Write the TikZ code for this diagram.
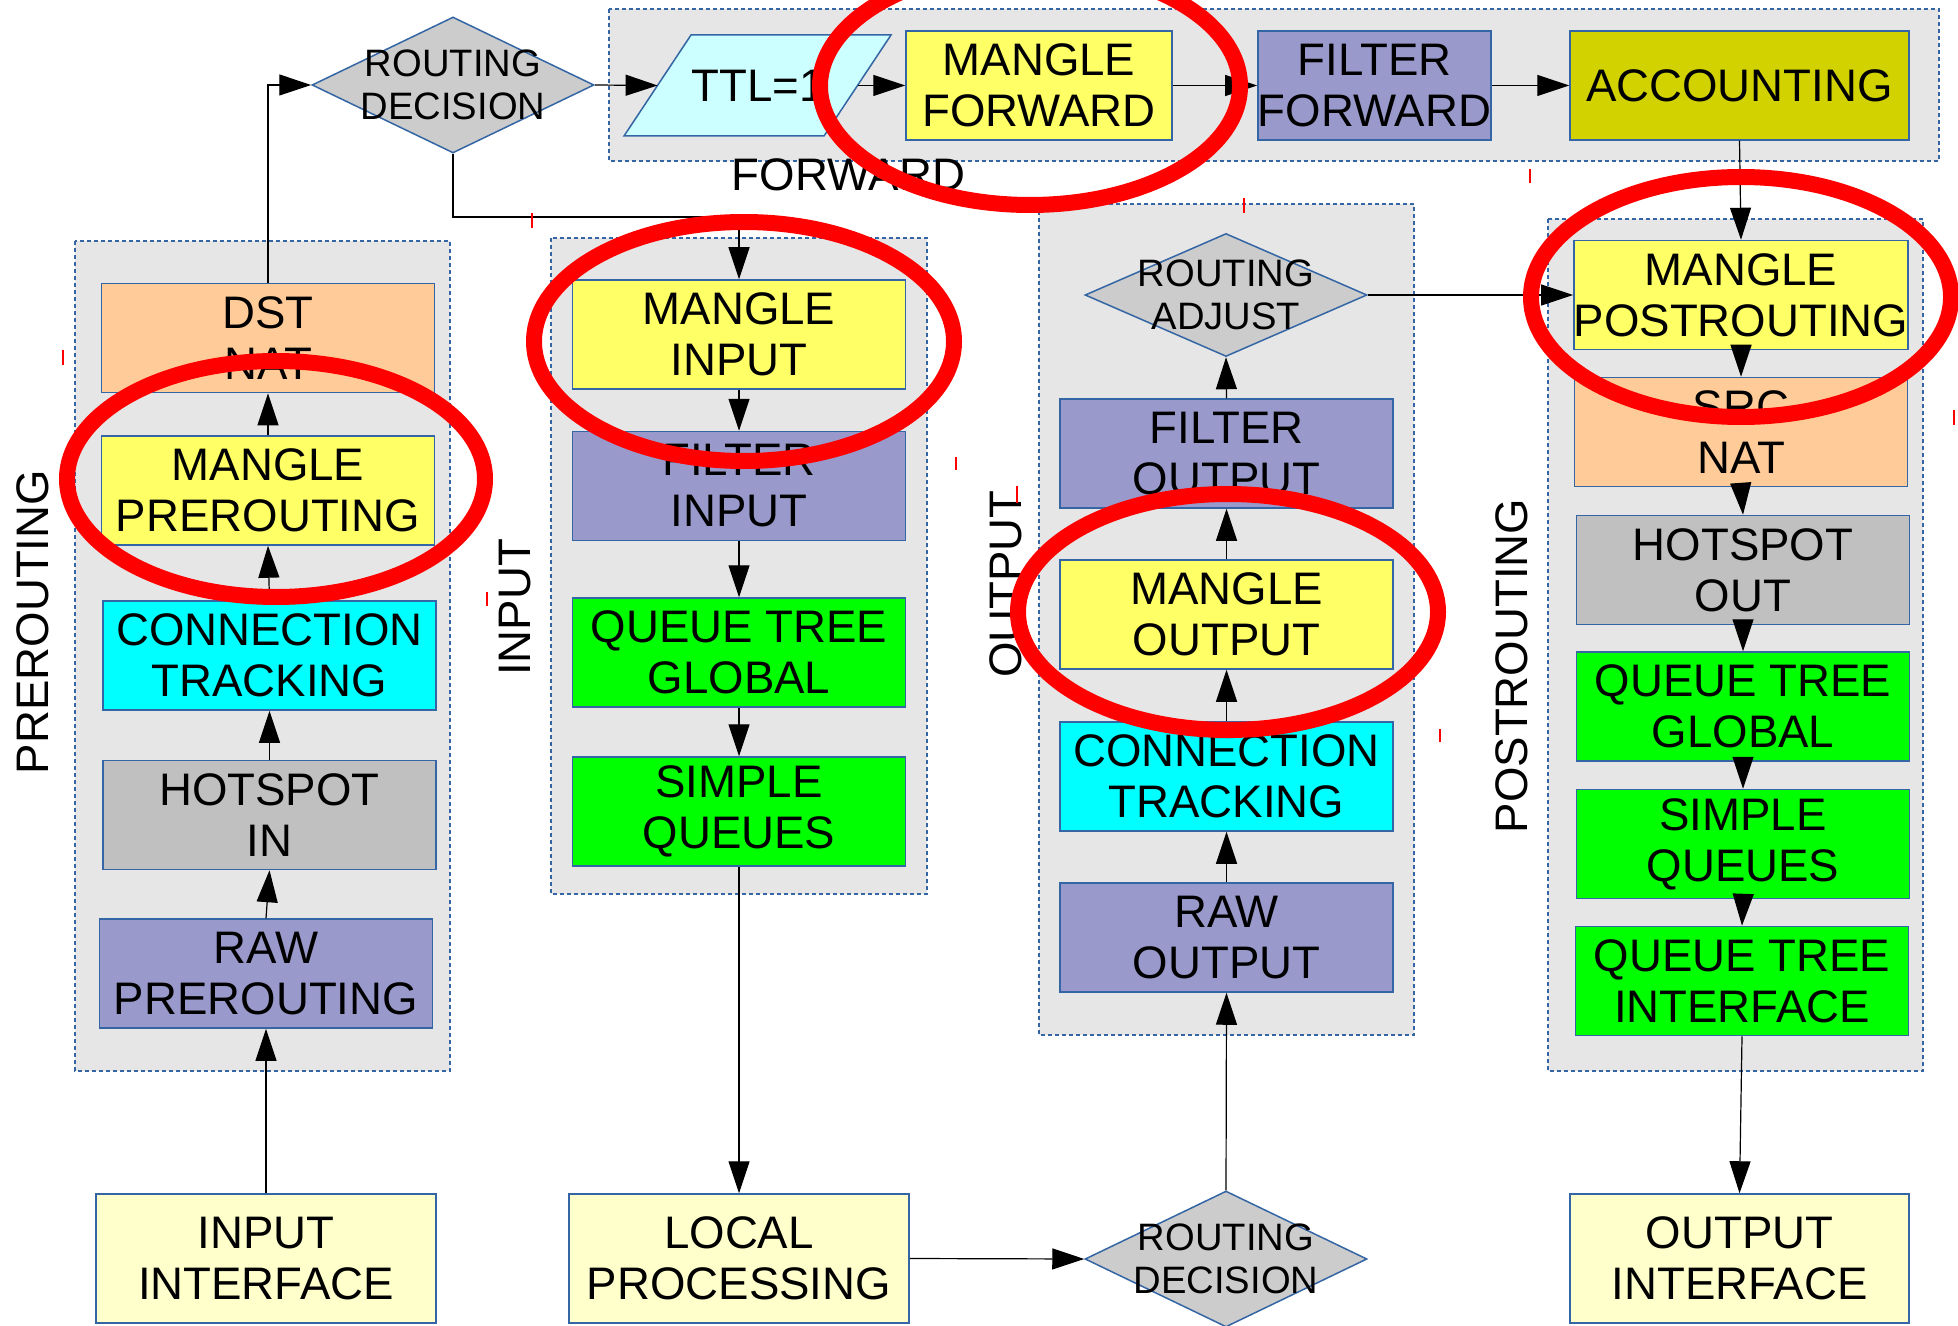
\documentclass[tikz,border=0pt]{standalone}
\usepackage{fontspec}
\setmainfont{Liberation Sans}
\usetikzlibrary{shapes.geometric,arrows.meta}
\definecolor{bblue}{RGB}{52,101,164}
\definecolor{grpfill}{RGB}{230,230,230}
\definecolor{cmangle}{RGB}{255,255,102}
\definecolor{cfilter}{RGB}{153,153,204}
\definecolor{cnat}{RGB}{255,204,153}
\definecolor{cconn}{RGB}{0,255,255}
\definecolor{chot}{RGB}{192,192,192}
\definecolor{cqueue}{RGB}{0,255,0}
\definecolor{cacct}{RGB}{210,210,0}
\definecolor{cttl}{RGB}{204,255,255}
\definecolor{cif}{RGB}{255,255,204}
\definecolor{cdia}{RGB}{204,204,204}
\definecolor{ringred}{RGB}{255,0,0}
\begin{document}
\begin{tikzpicture}[x=0.5pt,y=-0.5pt,
  boxfont/.style={font=\fontsize{22.8pt}{25.5pt}\selectfont},
  blk/.style={boxfont, draw=bblue, line width=0.75pt, rectangle,
    minimum width=166.5pt, minimum height=54.5pt, inner sep=0pt, align=center},
  ifbox/.style={blk, fill=cif, minimum width=170pt, minimum height=64.5pt},
  dia/.style={diamond, draw=bblue, fill=cdia, line width=0.75pt,
    minimum width=141pt, minimum height=68pt, inner sep=0pt},
  dialab/.style={align=center, inner sep=0pt, font=\fontsize{19.1pt}{21.5pt}\selectfont},
  grp/.style={fill=grpfill, draw=bblue, line width=0.6pt, dash pattern=on 2pt off 1.5pt},
  side/.style={boxfont, inner sep=0pt},
  para/.style={draw=bblue, fill=cttl, line width=0.75pt, line join=miter},
  ttlbox/.style={boxfont, rectangle, inner sep=0pt, minimum width=100pt, minimum height=50.5pt},
  arr/.style={line width=0.6pt, -{Triangle[length=16pt,width=10.5pt]}},
  ring/.style={draw=ringred, line width=8pt},
  tick/.style={draw=ringred, line width=1pt}
]
\useasboundingbox (0,0) rectangle (1958,1326);
\fill[white] (0,0) rectangle (1958,1326);

% groups
\path[grp] (609,9) rectangle (1939,161);
\path[grp] (75,241) rectangle (450,1071);
\path[grp] (551,238) rectangle (927,894);
\path[grp] (1039,204) rectangle (1414,1035);
\path[grp] (1548,219) rectangle (1923,1071);

% top row
\node[dia, label={[dialab]center:ROUTING\\DECISION}] (rdec1) at (453,85) {};
\path[para] (624,136) -- (691,35) -- (891,35) -- (824,136) -- cycle;
\node[ttlbox] (ttl) at (758,85.5) {TTL=1};
\node[blk, fill=cmangle, minimum width=133pt] (mfwd) at (1039,85.5) {MANGLE\\FORWARD};
\node[blk, fill=cfilter, minimum width=115.5pt] (ffwd) at (1374.5,85.5) {FILTER\\FORWARD};
\node[blk, fill=cacct, minimum width=169.5pt] (acct) at (1739.5,85.5) {ACCOUNTING};

% prerouting
\node[blk, fill=cnat] (dst) at (268,338) {DST\\NAT};
\node[blk, fill=cmangle] (mpre) at (268,490.5) {MANGLE\\PREROUTING};
\node[blk, fill=cconn] (ctpre) at (269.5,655.5) {CONNECTION\\TRACKING};
\node[blk, fill=chot] (hsin) at (269.5,815) {HOTSPOT\\IN};
\node[blk, fill=cfilter] (rawpre) at (266,973.5) {RAW\\PREROUTING};
\node[ifbox] (inif) at (266,1258.5) {INPUT\\INTERFACE};

% input
\node[blk, fill=cmangle] (min) at (739,334.5) {MANGLE\\INPUT};
\node[blk, fill=cfilter] (fin) at (739,486) {FILTER\\INPUT};
\node[blk, fill=cqueue] (qtg) at (739,652.5) {QUEUE TREE\\GLOBAL};
\node[blk, fill=cqueue] (sq) at (739,811.5) {SIMPLE\\QUEUES};
\node[ifbox] (local) at (739,1258.5) {LOCAL\\PROCESSING};

% output
\node[dia, minimum height=61.5pt, label={[dialab]center:ROUTING\\ADJUST}] (radj) at (1226,295) {};
\node[blk, fill=cfilter] (fout) at (1226.5,453.5) {FILTER\\OUTPUT};
\node[blk, fill=cmangle] (mout) at (1226.5,614.5) {MANGLE\\OUTPUT};
\node[blk, fill=cconn] (ctout) at (1226.5,776.5) {CONNECTION\\TRACKING};
\node[blk, fill=cfilter] (rawout) at (1226.5,937.5) {RAW\\OUTPUT};
\node[dia, label={[dialab]center:ROUTING\\DECISION}] (rdec2) at (1226,1259) {};

% postrouting
\node[blk, fill=cmangle] (mpost) at (1741,295) {MANGLE\\POSTROUTING};
\node[blk, fill=cnat] (srcnat) at (1741,432) {SRC\\NAT};
\node[blk, fill=chot] (hsout) at (1743,570) {HOTSPOT\\OUT};
\node[blk, fill=cqueue] (qtg2) at (1743,706.5) {QUEUE TREE\\GLOBAL};
\node[blk, fill=cqueue] (sq2) at (1743,844) {SIMPLE\\QUEUES};
\node[blk, fill=cqueue] (qti) at (1742,981) {QUEUE TREE\\INTERFACE};
\node[ifbox, minimum width=169.5pt] (outif) at (1739.5,1258.5) {OUTPUT\\INTERFACE};

% labels
\node[side, rotate=90] (lpre) at (33,622) {PREROUTING};
\node[side, rotate=90] (lin) at (515,607.5) {INPUT};
\node[side, rotate=90] (lout) at (1006,584) {OUTPUT};
\node[side, rotate=90] (lpost) at (1512,666) {POSTROUTING};
\node[side] (lfwd) at (848.5,174.5) {FORWARD};

% connectors
\coordinate (j1) at (453,217);
\draw[arr] (inif.north) -- (rawpre.south);
\draw[arr] (rawpre.north) -- (hsin.south);
\draw[arr] (hsin.north) -- (ctpre.south);
\draw[arr] (ctpre.north) -- (mpre.south);
\draw[arr] (mpre.north) -- (dst.south);
\draw[arr] (dst.north) |- (rdec1.west);
\draw[arr] (rdec1.east) -- (ttl.west);
\draw[arr] (ttl.east) -- (mfwd.west);
\draw[arr] (mfwd.east) -- (ffwd.west);
\draw[arr] (ffwd.east) -- (acct.west);
\draw[arr] (acct.south) -- (mpost.north);
\draw[arr] (rdec1.south) -- (j1) -| (min.north);
\draw[arr] (min.south) -- (fin.north);
\draw[arr] (fin.south) -- (qtg.north);
\draw[arr] (qtg.south) -- (sq.north);
\draw[arr] (sq.south) -- (local.north);
\draw[arr] (local.east) -- (rdec2.west);
\draw[arr] (rdec2.north) -- (rawout.south);
\draw[arr] (rawout.north) -- (ctout.south);
\draw[arr] (ctout.north) -- (mout.south);
\draw[arr] (mout.north) -- (fout.south);
\draw[arr] (fout.north) -- (radj.south);
\draw[arr] (radj.east) -- (mpost.west);
\draw[arr] (mpost.south) -- (srcnat.north);
\draw[arr] (srcnat.south) -- (hsout.north);
\draw[arr] (hsout.south) -- (qtg2.north);
\draw[arr] (qtg2.south) -- (sq2.north);
\draw[arr] (sq2.south) -- (qti.north);
\draw[arr] (qti.south) -- (outif.north);

% red rings
\draw[ring] (1030,86) ellipse [x radius=105pt, y radius=59.5pt];
\draw[ring] (744,341.5) ellipse [x radius=105pt, y radius=59.75pt];
\draw[ring] (276,479) ellipse [x radius=104.5pt, y radius=59pt];
\draw[ring] (1741,297) ellipse [x radius=105pt, y radius=60pt];
\draw[ring] (1228,612) ellipse [x radius=105pt, y radius=59pt];

% small red ticks
\draw[tick] (63,350) -- (63,365);
\draw[tick] (532,213) -- (532,228);
\draw[tick] (956,457) -- (956,470);
\draw[tick] (487,592) -- (487,606);
\draw[tick] (1244,198) -- (1244,213);
\draw[tick] (1530,169) -- (1530,183);
\draw[tick] (1954,410) -- (1954,425);
\draw[tick] (1440,729) -- (1440,742);
\draw[tick] (1017,486) -- (1017,503);
\end{tikzpicture}
\end{document}
